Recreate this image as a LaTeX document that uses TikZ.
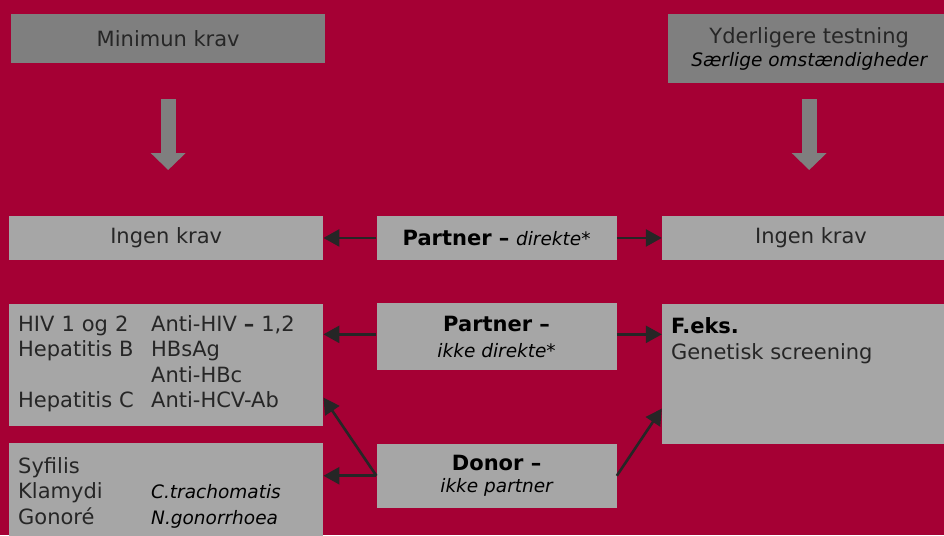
\documentclass[tikz,border=0pt]{standalone}
\usepackage{fontspec}
\setmainfont{DejaVu Sans}
\usetikzlibrary{arrows.meta,positioning}
\definecolor{bgred}{RGB}{165,0,52}
\definecolor{boxdark}{RGB}{127,127,127}
\definecolor{boxlight}{RGB}{166,166,166}
\definecolor{arrowdark}{RGB}{38,38,38}
\definecolor{txtdark}{RGB}{38,38,38}
\newcommand\bigfs{\fontsize{21}{25.5}\selectfont}
\newcommand\hb[1]{{\color{black}\bfseries #1}}
\newcommand\hi[1]{{\color{black}\fontsize{18.5}{22}\selectfont\itshape #1}}

\begin{document}
\begin{tikzpicture}[x=1pt,y=-1pt,
    darkbox/.style={fill=boxdark,text=txtdark,inner sep=0pt,font=\bigfs},
    lightbox/.style={fill=boxlight,text=txtdark,inner sep=0pt,font=\bigfs},
    flow/.style={-{Triangle[length=16pt,width=17pt]},draw=arrowdark,line width=2.6pt},
    bigdown/.style={-{Triangle[length=17pt,width=34pt]},draw=boxdark,line width=15pt}
  ]
    \fill[bgred] (0,0) rectangle (944,535);
    \useasboundingbox (0,0) rectangle (944,535);
    % overskrifter
    \node[darkbox,minimum width=314pt,minimum height=49pt,anchor=north west] (minimun) at (11,14) {Minimun krav};
    \node[darkbox,minimum width=282pt,minimum height=69pt,anchor=north west,align=center,
      font=\fontsize{21}{22.5}\selectfont] (extra) at (668,14) {Yderligere testning\\\hi{Særlige omstændigheder}};
    % række 1
    \node[lightbox,minimum width=314pt,minimum height=43.5pt,anchor=north west] (ingenL) at (9,216) {Ingen krav};
    \node[lightbox,minimum width=240pt,minimum height=44pt,right=53pt of ingenL] (pdir) {\hb{Partner –} \hi{direkte*}};
    \node[lightbox,minimum width=298pt,minimum height=43.5pt,right=45pt of pdir] (ingenR) {Ingen krav};
    % række 2
    \node[lightbox,text width=296pt,inner xsep=9pt,minimum height=122pt,align=left,below=43.5pt of ingenL] (hiv)
      {\begin{tabular}{@{}p{133pt}@{}l@{}}HIV 1 og 2 & Anti-HIV \textbf{–} 1,2\\Hepatitis B & HBsAg\\ & Anti-HBc\\Hepatitis C & Anti-HCV-Ab\end{tabular}};
    \node[lightbox,minimum width=240pt,minimum height=67pt,align=center,below=43pt of pdir] (pind) {\hb{Partner –}\\\hi{ikke direkte*}};
    \node[lightbox,minimum width=298pt,minimum height=140pt,below=43.5pt of ingenR] (feks) {};
    \node[anchor=north west,align=left,inner sep=0pt,text=txtdark,font=\bigfs] (feksTxt)
      at ([xshift=9pt,yshift=-14pt]feks.north west) {\hb{F.eks.}\\Genetisk screening};
    % række 3
    \node[lightbox,text width=296pt,inner xsep=9pt,minimum height=101pt,align=left,below=17pt of hiv] (syf)
      {\begin{tabular}{@{}p{133pt}@{}l@{}}Syfilis & \\Klamydi & \hi{C.trachomatis}\\Gonoré & \hi{N.gonorrhoea}\end{tabular}};
    \node[lightbox,minimum width=240pt,minimum height=64pt,align=center,below=73pt of pind,
      font=\fontsize{21}{22}\selectfont] (donor) {\hb{Donor –}\\\hi{ikke partner}};
    % pile
    \draw[bigdown,shorten <=36pt,shorten >=46pt] (minimun.south) -- (minimun.south |- ingenL.north);
    \draw[bigdown,shorten <=16pt,shorten >=46pt] (extra.south) -- (extra.south |- ingenR.north);
    \draw[flow] (pdir.west) -- (ingenL.east);
    \draw[flow] (pdir.east) -- (ingenR.west);
    \coordinate (pindL) at ([yshift=2.5pt]pind.west);
    \coordinate (pindR) at ([yshift=2.5pt]pind.east);
    \draw[flow] (pindL) -- (pindL -| hiv.east);
    \draw[flow] (pindR) -- (pindR -| feks.west);
    \draw[flow] (donor.west) -- (donor.west -| syf.east);
    \draw[flow] (donor.west) -- ([yshift=-33pt]hiv.east);
    \draw[flow] (donor.east) -- ([yshift=-35pt]feks.west);
\end{tikzpicture}
\end{document}
